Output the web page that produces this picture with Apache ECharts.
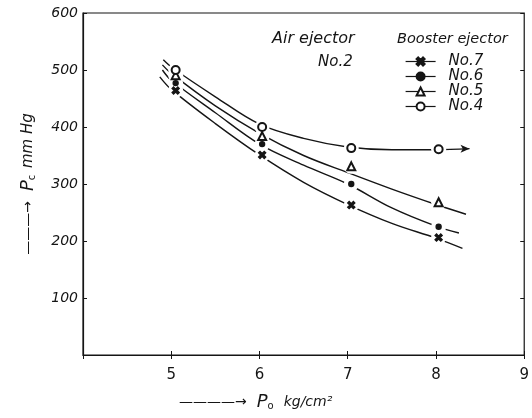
<!DOCTYPE html>
<html>
<head>
<meta charset="utf-8">
<script src="https://cdn.jsdelivr.net/npm/echarts@6/dist/echarts.min.js"></script>
<style>
html,body{margin:0;padding:0;background:#fff;}
#chart{width:532px;height:418px;}
</style>
</head>
<body>
<div id="chart"></div>
<script>
// Measured points (x = Po kg/cm2, y = Pc mmHg)
const markerX = [5.05, 6.03, 7.04, 8.03];
const no7Points = [464, 351, 263, 206];
const no6Points = [477, 370, 300, 225];
const no5Points = [491, 384, 331, 268];
const no4Points = [500, 400, 363, 361];

// Hand-drawn curves
const no7CurveX = [4.87, 5.0, 5.5, 6.0, 6.5, 7.0, 7.5, 8.0, 8.3];
const no7CurveY = [488, 466, 406, 351, 303, 264, 231, 205, 187];
const no6CurveX = [4.90, 5.0, 5.5, 6.0, 6.5, 7.0, 7.5, 8.0, 8.26];
const no6CurveY = [500, 482, 425, 370, 333, 300, 258, 226, 214];
const no5CurveX = [4.90, 5.0, 5.5, 6.0, 6.5, 7.0, 7.5, 8.0, 8.34];
const no5CurveY = [509, 494, 437, 389, 350, 320, 291, 264, 247];
const no4CurveX = [4.91, 5.02, 5.5, 6.0, 6.5, 7.0, 7.5, 8.0, 8.38];
const no4CurveY = [518, 503, 453, 405, 380, 365, 360, 360, 362];

const xTicks = [5, 6, 7, 8, 9];
const yTicks = [100, 200, 300, 400, 500, 600];

const seriesNames = ['No.7', 'No.6', 'No.5', 'No.4'];
const FONT = 'DejaVu Sans';
const INK = '#151515';

const xShape = 'path://M2,0 L5,3 L8,0 L10,2 L7,5 L10,8 L8,10 L5,7 L2,10 L0,8 L3,5 L0,2 Z';

function pairs(xs, ys) { return xs.map((x, i) => [x, ys[i]]); }

const curves = [
  { x: no7CurveX, y: no7CurveY },
  { x: no6CurveX, y: no6CurveY },
  { x: no5CurveX, y: no5CurveY },
  { x: no4CurveX, y: no4CurveY }
];
const points = [no7Points, no6Points, no5Points, no4Points];
const symbols = [xShape, 'circle', 'emptyTriangle', 'emptyCircle'];
const symbolSizes = [7, 5, 8, 8];

const series = [];
curves.forEach((c, i) => {
  const data = pairs(c.x, c.y);
  if (i === 3) {
    const last = data.pop();
    data.push({ value: last, symbol: 'arrow', symbolSize: [6, 9], symbolRotate: -90 });
  }
  series.push({
    type: 'line', name: 'curve' + i, data: data, smooth: 0.35,
    symbol: 'none', showSymbol: i === 3, z: 2, silent: true,
    lineStyle: { color: INK, width: 1.4 },
    itemStyle: { color: INK }
  });
});
points.forEach((p, i) => {
  series.push({
    type: 'scatter', name: 'gap' + i, data: pairs(markerX, p), z: 3, zlevel: 0, silent: true,
    symbol: 'circle', symbolSize: 15, itemStyle: { color: '#ffffff', opacity: 1 }
  });
});
points.forEach((p, i) => {
  series.push({
    type: 'line', name: seriesNames[i], data: pairs(markerX, p), z: 4,
    symbol: symbols[i], symbolSize: symbolSizes[i], showSymbol: true,
    lineStyle: { opacity: 0, width: 0 },
    itemStyle: { color: INK, borderColor: INK, borderWidth: 1.4 }
  });
});

const chart = echarts.init(document.getElementById('chart'), null, { renderer: 'canvas' });
chart.setOption({
  animation: false,
  backgroundColor: '#fff',
  grid: { left: 83, right: 7, top: 13, bottom: 63, show: true, borderColor: INK, borderWidth: 1.2 },
  title: [
    { text: 'Air ejector', left: 267, top: 26, textStyle: { fontFamily: FONT, fontSize: 16, fontStyle: 'italic', fontWeight: 'normal', color: INK } },
    { text: 'No.2', left: 313, top: 50, textStyle: { fontFamily: FONT, fontSize: 15, fontStyle: 'italic', fontWeight: 'normal', color: INK } },
    { text: 'Booster ejector', left: 392, top: 27, textStyle: { fontFamily: FONT, fontSize: 14.5, fontStyle: 'italic', fontWeight: 'normal', color: INK } }
  ],
  legend: {
    data: seriesNames, orient: 'vertical', left: 400, top: 49,
    itemWidth: 30, itemHeight: 10, itemGap: 0,
    textStyle: { fontFamily: FONT, fontSize: 15, fontStyle: 'italic', color: INK, padding: [0, 0, 0, 8] },
    lineStyle: { color: INK, width: 1.2, opacity: 1 },
    selectedMode: false
  },
  xAxis: [{
    type: 'value', min: 4, max: 9, interval: 1,
    name: '{arr|————→}   {b|P}{sub|o}   {u|kg/cm²}', nameLocation: 'middle', nameGap: 38,
    nameTextStyle: {
      padding: [0, 96, 0, 0],
      rich: {
        arr: { fontFamily: FONT, fontSize: 14, color: INK },
        b: { fontFamily: FONT, fontSize: 18, fontStyle: 'italic', color: INK },
        sub: { fontFamily: FONT, fontSize: 10, color: INK, padding: [8, 0, 0, 0] },
        u: { fontFamily: FONT, fontSize: 14, fontStyle: 'italic', color: INK }
      }
    },
    axisLine: { lineStyle: { color: INK, width: 1.2 } },
    axisTick: { inside: true, length: 4, lineStyle: { color: INK } },
    axisLabel: {
      fontFamily: FONT, fontSize: 15, color: INK, margin: 13,
      formatter: v => (xTicks.indexOf(v) >= 0 ? String(v) : '')
    },
    splitLine: { show: false }
  }, {
    type: 'value', min: 4, max: 9, interval: 1, position: 'top',
    axisLine: { show: false },
    axisTick: { inside: true, length: 4, lineStyle: { color: INK } },
    axisLabel: { show: false }, splitLine: { show: false }
  }],
  yAxis: [{
    type: 'value', min: 0, max: 600, interval: 100,
    name: '{arr|———→}   {b|P}{sub|c}  {u|mm Hg}', nameLocation: 'middle', nameRotate: 90, nameGap: 46,
    nameTextStyle: {
      rich: {
        arr: { fontFamily: FONT, fontSize: 14, color: INK },
        b: { fontFamily: FONT, fontSize: 18, fontStyle: 'italic', color: INK },
        sub: { fontFamily: FONT, fontSize: 10, color: INK, padding: [8, 0, 0, 0] },
        u: { fontFamily: FONT, fontSize: 15, fontStyle: 'italic', color: INK }
      }
    },
    axisLine: { lineStyle: { color: INK, width: 1.2 } },
    axisTick: { inside: true, length: 4, lineStyle: { color: INK } },
    axisLabel: {
      fontFamily: FONT, fontSize: 14, fontStyle: 'italic', color: INK, margin: 5,
      formatter: v => (yTicks.indexOf(v) >= 0 ? String(v) : '')
    },
    splitLine: { show: false }
  }, {
    type: 'value', min: 0, max: 600, interval: 100, position: 'right',
    axisLine: { show: false },
    axisTick: { inside: true, length: 4, lineStyle: { color: INK } },
    axisLabel: { show: false }, splitLine: { show: false }
  }],
  series: series
});
</script>
</body>
</html>
